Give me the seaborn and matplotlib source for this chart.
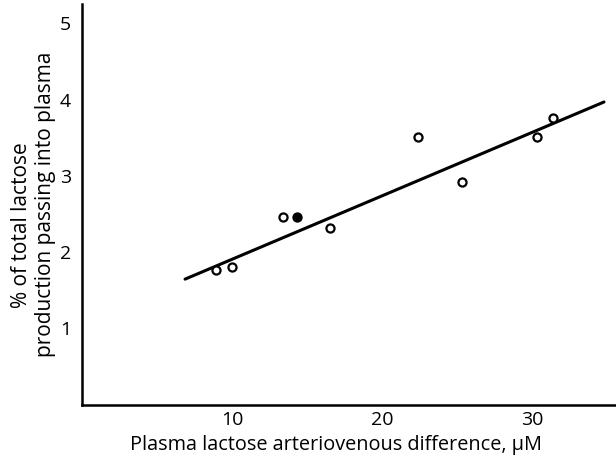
import matplotlib
matplotlib.use("Agg")
import matplotlib.pyplot as plt
import seaborn as sns
import pandas as pd

# Data
open_x = [8.93, 10.02, 13.4, 16.53, 22.38, 25.35, 30.35, 31.42]
open_y = [1.77, 1.80, 2.455, 2.32, 3.51, 2.92, 3.51, 3.76]
filled_x = [14.3]
filled_y = [2.455]
line_x = [6.87, 34.8]
line_y = [1.645, 3.97]
x_ticks = [10, 20, 30]
y_ticks = [1, 2, 3, 4, 5]

sns.set_theme(style="white")
plt.rcParams['font.family'] = ['Open Sans', 'DejaVu Sans']

fig = plt.figure(figsize=(6.16, 4.63), dpi=100)
W, H = 616, 463
x0_px, y0_px = 82, 404.5
px_per_x, px_per_y = 15.0, 76.2
xmax = (W - x0_px) / px_per_x
ymax = 5.25
ax = fig.add_axes([x0_px / W, (H - y0_px) / H, (W - x0_px) / W, ymax * px_per_y / H])

df_open = pd.DataFrame({"x": open_x, "y": open_y})
df_fill = pd.DataFrame({"x": filled_x, "y": filled_y})
df_line = pd.DataFrame({"x": line_x, "y": line_y})

sns.lineplot(data=df_line, x="x", y="y", ax=ax, color="black", lw=2.2)
sns.scatterplot(data=df_open, x="x", y="y", ax=ax, s=34, facecolor="white",
                edgecolor="black", linewidth=1.6, zorder=3)
sns.scatterplot(data=df_fill, x="x", y="y", ax=ax, s=34, color="black",
                edgecolor="black", linewidth=1.6, zorder=3)

ax.set_xlim(0, xmax)
ax.set_ylim(0, ymax)
ax.set_xticks(x_ticks)
ax.set_yticks(y_ticks)
ax.set_xticklabels([str(t) for t in x_ticks])
ax.set_yticklabels([str(t) for t in y_ticks])
for s in ["top", "right"]:
    ax.spines[s].set_visible(False)
for s in ["left", "bottom"]:
    ax.spines[s].set_color("black")
    ax.spines[s].set_linewidth(1.8)
ax.tick_params(direction="in", length=8, width=1.6, colors="black",
               labelsize=14)
ax.tick_params(axis="x", pad=5)
ax.tick_params(axis="y", pad=8)
ax.set_xlabel("")
ax.set_ylabel("")
ax.set_facecolor("white")
fig.patch.set_facecolor("white")

fig.text(336 / W, 1 - 450 / H, "Plasma lactose arteriovenous difference, μM",
         ha="center", va="baseline", fontsize=14.3, color="black")
fig.text(22 / W, 1 - 225 / H, "% of total lactose", rotation=90,
         ha="center", va="center", fontsize=15, color="black")
fig.text(46 / W, 1 - 204 / H, "production passing into plasma", rotation=90,
         ha="center", va="center", fontsize=15, color="black")

fig.savefig("out.png", dpi=100)
